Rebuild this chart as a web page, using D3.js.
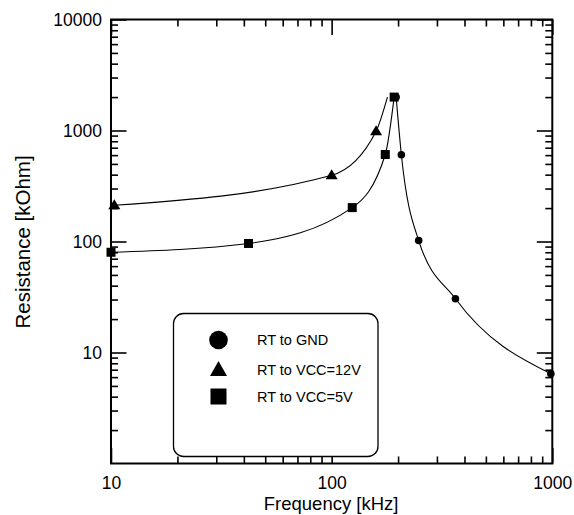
<!DOCTYPE html>
<html>
<head>
<meta charset="utf-8">
<script src="https://cdn.jsdelivr.net/npm/d3@7"></script>
<style>
  html, body { margin: 0; padding: 0; background: #fff; }
  svg { display: block; font-family: "Liberation Sans", Arial, sans-serif; }
</style>
</head>
<body>
<svg id="chart" width="574" height="515"></svg>
<script>
// ---------- data ----------
const gndFreq  = [196, 207, 248, 364, 985];
const gndRes   = [2000, 605, 102, 30.5, 6.45];

const vcc12Freq = [10.35, 100, 159];
const vcc12Res  = [212, 395, 985];
const vcc12EndFreq = 179;   // curve end (no marker)
const vcc12EndRes  = 2000;

const vcc5Freq = [10.0, 42, 124, 175, 192];
const vcc5Res  = [80, 96, 202, 608, 2000];

const xMajorTicks = [10, 100, 1000];
const yMajorTicks = [10, 100, 1000, 10000];
const xTickLabels = ["10", "100", "1000"];
const yTickLabels = ["10", "100", "1000", "10000"];
const legendLabels = ["RT to GND", "RT to VCC=12V", "RT to VCC=5V"];
const xTitle = "Frequency [kHz]";
const yTitle = "Resistance [kOhm]";

// ---------- layout ----------
const L = 111, R = 552.3, T = 19.5, B = 463.5;
const svg = d3.select("#chart");
const x = d3.scaleLog().domain([10, 1000]).range([L, R]);
const y = d3.scaleLog().domain([1, 10000]).range([B, T]);

const minorX = [];
[10, 100].forEach(d => { for (let k = 2; k <= 9; k++) minorX.push(d * k); });
const minorY = [];
[1, 10, 100, 1000].forEach(d => { for (let k = 2; k <= 9; k++) minorY.push(d * k); });

const MAJ = 15.5, MIN = 7;
const tickFont = "17.5px";

function styleAxis(g) {
  g.select(".domain").remove();
  g.selectAll(".tick line").attr("stroke", "#000").attr("stroke-width", 1.6);
  g.selectAll(".tick text").attr("fill", "#000").style("font-size", tickFont)
    .style("font-family", '"Liberation Sans", Arial, sans-serif');
}

// bottom
svg.append("g").attr("transform", `translate(0,${B})`)
  .call(d3.axisBottom(x).tickValues(xMajorTicks).tickSize(-MAJ).tickPadding(13)
    .tickFormat((d, i) => xTickLabels[i]))
  .call(styleAxis);
svg.append("g").attr("transform", `translate(0,${B})`)
  .call(d3.axisBottom(x).tickValues(minorX).tickSize(-MIN).tickFormat(""))
  .call(styleAxis);
// top
svg.append("g").attr("transform", `translate(0,${T})`)
  .call(d3.axisTop(x).tickValues(xMajorTicks).tickSize(-MAJ).tickFormat(""))
  .call(styleAxis);
svg.append("g").attr("transform", `translate(0,${T})`)
  .call(d3.axisTop(x).tickValues(minorX).tickSize(-MIN).tickFormat(""))
  .call(styleAxis);
// left
svg.append("g").attr("transform", `translate(${L},0)`)
  .call(d3.axisLeft(y).tickValues(yMajorTicks).tickSize(-MAJ).tickPadding(9)
    .tickFormat((d, i) => yTickLabels[i]))
  .call(styleAxis);
svg.append("g").attr("transform", `translate(${L},0)`)
  .call(d3.axisLeft(y).tickValues(minorY).tickSize(-MIN).tickFormat(""))
  .call(styleAxis);
// right
svg.append("g").attr("transform", `translate(${R},0)`)
  .call(d3.axisRight(y).tickValues(yMajorTicks).tickSize(-MAJ).tickFormat(""))
  .call(styleAxis);
svg.append("g").attr("transform", `translate(${R},0)`)
  .call(d3.axisRight(y).tickValues(minorY).tickSize(-MIN).tickFormat(""))
  .call(styleAxis);

// frame
svg.append("rect").attr("x", L).attr("y", T).attr("width", R - L).attr("height", B - T)
  .attr("fill", "none").attr("stroke", "#000").attr("stroke-width", 2);

// titles
svg.append("text").attr("x", (L + R) / 2 - 0.5).attr("y", 510)
  .attr("text-anchor", "middle").style("font-size", "18.5px").text(xTitle);
svg.append("text").attr("transform", "translate(29.5,242) rotate(-90)")
  .attr("text-anchor", "middle").style("font-size", "20.5px").text(yTitle);

// ---------- curves ----------
const line = d3.line().x(d => x(d[0])).y(d => y(d[1])).curve(d3.curveMonotoneX);
const gndPts = gndFreq.map((f, i) => [f, gndRes[i]]);
const v12Pts = vcc12Freq.map((f, i) => [f, vcc12Res[i]]);
const v12Curve = v12Pts.concat([[vcc12EndFreq, vcc12EndRes]]);
const v5Pts = vcc5Freq.map((f, i) => [f, vcc5Res[i]]);

[gndPts, v12Curve, v5Pts].forEach(pts => {
  svg.append("path").attr("d", line(pts)).attr("fill", "none")
    .attr("stroke", "#000").attr("stroke-width", 1.1);
});

// ---------- markers ----------
const tri = (cx, cy, w, h) => `M${cx},${cy - h * 0.6}L${cx + w / 2},${cy + h * 0.4}L${cx - w / 2},${cy + h * 0.4}Z`;

svg.append("g").selectAll("circle").data(gndPts).join("circle")
  .attr("cx", d => x(d[0])).attr("cy", d => y(d[1])).attr("r", 3.8).attr("fill", "#000");
svg.append("g").selectAll("path").data(v12Pts).join("path")
  .attr("d", d => tri(x(d[0]), y(d[1]), 12, 10)).attr("fill", "#000");
svg.append("g").selectAll("rect").data(v5Pts).join("rect")
  .attr("x", d => x(d[0]) - 4.5).attr("y", d => y(d[1]) - 4.5)
  .attr("width", 9).attr("height", 9).attr("fill", "#000");

// ---------- legend ----------
const lg = svg.append("g");
lg.append("rect").attr("x", 173.5).attr("y", 313.5).attr("width", 204.5).attr("height", 143)
  .attr("rx", 10).attr("ry", 10).attr("fill", "#fff").attr("stroke", "#000").attr("stroke-width", 1.3);
const legY = [340, 370, 396.5];
lg.append("circle").attr("cx", 218.5).attr("cy", legY[0]).attr("r", 9.3).attr("fill", "#000");
lg.append("path").attr("d", tri(218.5, legY[1], 17, 15)).attr("fill", "#000");
lg.append("rect").attr("x", 218.5 - 8).attr("y", legY[2] - 8).attr("width", 16).attr("height", 16).attr("fill", "#000");
legendLabels.forEach((t, i) => {
  lg.append("text").attr("x", 257).attr("y", legY[i]).attr("dy", "0.36em")
    .style("font-size", "14.5px").text(t);
});
</script>
</body>
</html>
